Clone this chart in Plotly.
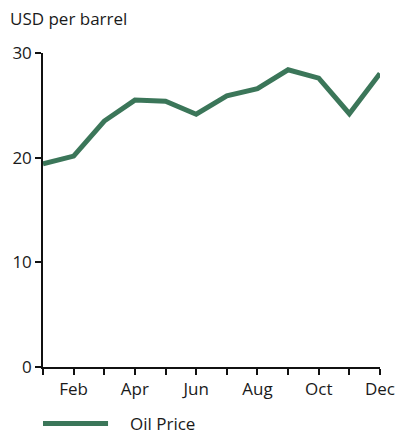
import plotly.graph_objects as go

# Monthly average oil price, USD per barrel
months = ["Jan", "Feb", "Mar", "Apr", "May", "Jun",
          "Jul", "Aug", "Sep", "Oct", "Nov", "Dec"]
oil_price = [19.4, 20.15, 23.5, 25.5, 25.4, 24.15,
             25.9, 26.6, 28.4, 27.6, 24.2, 28.05]
month_labels = ["", "Feb", "", "Apr", "", "Jun",
                "", "Aug", "", "Oct", "", "Dec"]
y_ticks = [0, 10, 20, 30]

line_color = "#3b7659"
text_color = "#1a1a1a"
font_family = "Open Sans, Liberation Sans, sans-serif"

fig = go.Figure()
fig.add_trace(go.Scatter(
    x=months, y=oil_price, mode="lines", name="Oil Price",
    line=dict(color=line_color, width=5),
    showlegend=False, hoverinfo="x+y",
))

legend_y = -0.18

fig.update_layout(
    width=395, height=435,
    margin=dict(l=43, r=15, t=53, b=68),
    paper_bgcolor="white", plot_bgcolor="white",
    font=dict(family=font_family, size=17, color=text_color),
    xaxis=dict(
        type="category", range=[0, 11], automargin=False,
        tickmode="array", tickvals=months, ticktext=month_labels,
        showline=True, linecolor="#111", linewidth=1.5,
        ticks="outside", ticklen=6, tickcolor="#111", tickwidth=1.5,
        showgrid=False, zeroline=False, ticklabelstandoff=0,
        tickfont=dict(size=17),
    ),
    yaxis=dict(
        range=[0, 30], tickmode="array", tickvals=y_ticks, automargin=False,
        showline=True, linecolor="#111", linewidth=1.5,
        ticks="outside", ticklen=6, tickcolor="#111", tickwidth=1.5,
        showgrid=False, zeroline=False, tickfont=dict(size=17),
    ),
    annotations=[
        dict(text="USD per barrel", xref="paper", yref="paper",
             x=-0.104, y=1.111, xanchor="left", yanchor="middle",
             showarrow=False, font=dict(size=17)),
        dict(text="Oil Price", xref="paper", yref="paper",
             x=0.252, y=legend_y, xanchor="left", yanchor="middle",
             showarrow=False, font=dict(size=17)),
    ],
    shapes=[
        dict(type="line", xref="paper", yref="paper",
             x0=0.0, x1=0.193, y0=legend_y, y1=legend_y,
             line=dict(color=line_color, width=5)),
    ],
)

fig.write_html("out.html")
